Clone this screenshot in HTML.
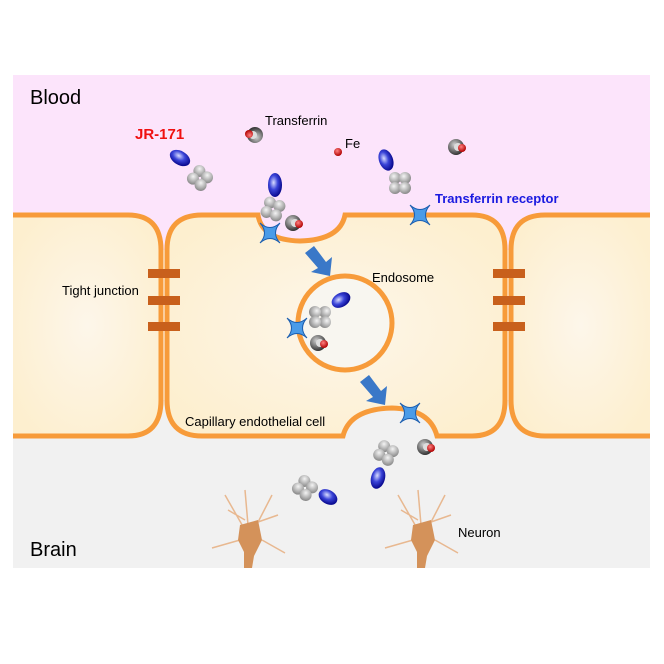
<!DOCTYPE html>
<html><head><meta charset="utf-8"><style>body{margin:0;background:#fff}svg{display:block}text{font-family:"Liberation Sans",Arial,sans-serif}</style></head><body>
<svg width="664" height="664" viewBox="0 0 664 664" xmlns="http://www.w3.org/2000/svg">
<defs>
<radialGradient id="bl" cx="0.4" cy="0.4" r="0.6"><stop offset="0" stop-color="#d8dcff"/><stop offset="0.5" stop-color="#3a44d8"/><stop offset="1" stop-color="#0a0a90"/></radialGradient>
<radialGradient id="gr" cx="0.4" cy="0.35" r="0.65"><stop offset="0" stop-color="#f4f4f4"/><stop offset="1" stop-color="#8a8a8a"/></radialGradient>
<radialGradient id="dk" cx="0.4" cy="0.35" r="0.65"><stop offset="0" stop-color="#cfcfcf"/><stop offset="1" stop-color="#333"/></radialGradient>
<radialGradient id="rd" cx="0.4" cy="0.35" r="0.65"><stop offset="0" stop-color="#ff8080"/><stop offset="1" stop-color="#b00000"/></radialGradient>
<radialGradient id="cellg" cx="0.5" cy="0.5" r="0.6"><stop offset="0" stop-color="#fdf6ea"/><stop offset="1" stop-color="#fdefcf"/></radialGradient>
<g id="ab4"><circle cx="-5" cy="-5" r="6" fill="url(#gr)"/><circle cx="5" cy="-5" r="6" fill="url(#gr)"/><circle cx="-5" cy="5" r="6" fill="url(#gr)"/><circle cx="5" cy="5" r="6" fill="url(#gr)"/></g>
<g id="tf"><circle r="8" fill="url(#dk)"/><circle cx="2" cy="0" r="4" fill="#ddd"/><circle cx="6" cy="1" r="4" fill="url(#rd)"/></g>
<g id="rc"><path d="M-10,-10 Q0,-1 10,-10 Q1,0 10,10 Q0,1 -10,10 Q-1,0 -10,-10Z" fill="#4a9be8" stroke="#1d5fb0" stroke-width="1"/></g>
</defs>
<rect x="13" y="75" width="637" height="175" fill="#fce4fb"/>
<rect x="13" y="400" width="637" height="168" fill="#f1f1f1"/>
<!-- cells -->
<path d="M13,215 H128 Q161,215 161,250 V400 Q161,436 128,436 H13" fill="url(#cellg)" stroke="#f79b3a" stroke-width="5"/>
<path d="M650,215 H545 Q511,215 511,250 V400 Q511,436 545,436 H650" fill="url(#cellg)" stroke="#f79b3a" stroke-width="5"/>
<path d="M202,215 H258 Q262,240 300,241 Q340,240 345,215 H472 Q505,215 505,250 V400 Q505,436 472,436 H437 Q430,409 392,408 Q350,409 343,436 H202 Q167,436 167,400 V250 Q167,215 202,215 Z" fill="url(#cellg)" stroke="#f79b3a" stroke-width="5"/>
<rect x="650" y="200" width="14" height="250" fill="#fff"/>
<circle cx="345" cy="323" r="47" fill="#f8f6f0" stroke="#f79b3a" stroke-width="5"/>
<!-- tight junctions -->
<g fill="#c8601c"><rect x="148" y="269" width="32" height="9"/><rect x="148" y="296" width="32" height="9"/><rect x="148" y="322" width="32" height="9"/><rect x="493" y="269" width="32" height="9"/><rect x="493" y="296" width="32" height="9"/><rect x="493" y="322" width="32" height="9"/></g>
<!-- arrows -->
<g fill="#3a78c8"><path d="M305,253 L314,246 L326,262 L332,257 L330,276 L311,272 L318,268 Z"/><path d="M360,382 L369,375 L381,391 L387,386 L385,405 L366,401 L373,397 Z"/></g>
<!-- molecules -->
<ellipse cx="180" cy="158" rx="11" ry="7" transform="rotate(30 180 158)" fill="url(#bl)"/><use href="#ab4" x="200" y="178" transform="rotate(40 200 178)"/>
<use href="#tf" x="255" y="135" transform="rotate(180 255 135)"/>
<circle cx="338" cy="152" r="4" fill="url(#rd)"/>
<use href="#tf" x="456" y="147"/>
<ellipse cx="386" cy="160" rx="7" ry="11" transform="rotate(-20 386 160)" fill="url(#bl)"/><use href="#ab4" x="400" y="183"/>
<use href="#rc" x="420" y="215"/>
<ellipse cx="275" cy="185" rx="7" ry="12" fill="url(#bl)"/><use href="#ab4" x="273" y="209" transform="rotate(20 273 209)"/>
<use href="#tf" x="293" y="223"/><use href="#rc" x="270" y="233"/>
<ellipse cx="341" cy="300" rx="10" ry="7" transform="rotate(-30 341 300)" fill="url(#bl)"/><use href="#ab4" x="320" y="317" transform="rotate(90 320 317)"/>
<use href="#rc" x="297" y="328"/><use href="#tf" x="318" y="343"/>
<use href="#rc" x="410" y="413"/>
<use href="#tf" x="425" y="447"/>
<use href="#ab4" x="386" y="453" transform="rotate(30 386 453)"/><ellipse cx="378" cy="478" rx="7" ry="11" transform="rotate(15 378 478)" fill="url(#bl)"/>
<use href="#ab4" x="305" y="488" transform="rotate(40 305 488)"/><ellipse cx="328" cy="497" rx="10" ry="7" transform="rotate(30 328 497)" fill="url(#bl)"/>
<!-- neurons -->
<g stroke="#e8b890" stroke-width="1.5" fill="none"><path d="M245,530 L225,495 M248,525 L245,490 M255,528 L272,495 M240,540 L212,548 M262,540 L285,553 M245,520 L228,510 M258,522 L278,515"/><path d="M418,530 L398,495 M421,525 L418,490 M428,528 L445,495 M413,540 L385,548 M435,540 L458,553 M418,520 L401,510 M431,522 L451,515"/></g>
<path d="M240,525 L258,520 L262,540 L254,556 L252,568 L244,568 L244,552 L238,540 Z" fill="#d4925a"/>
<path d="M413,525 L431,520 L435,540 L427,556 L425,568 L417,568 L417,552 L411,540 Z" fill="#d4925a"/>
<!-- text -->
<text x="30" y="104" font-size="20">Blood</text>
<text x="30" y="556" font-size="20">Brain</text>
<text x="135" y="139" font-size="15" font-weight="bold" fill="#f01010">JR-171</text>
<text x="265" y="125" font-size="13">Transferrin</text>
<text x="345" y="148" font-size="13">Fe</text>
<text x="435" y="203" font-size="13" font-weight="bold" fill="#1a1ae0">Transferrin receptor</text>
<text x="372" y="282" font-size="13">Endosome</text>
<text x="62" y="295" font-size="13">Tight junction</text>
<text x="185" y="426" font-size="13">Capillary endothelial cell</text>
<text x="458" y="537" font-size="13">Neuron</text>
</svg>
</body></html>
